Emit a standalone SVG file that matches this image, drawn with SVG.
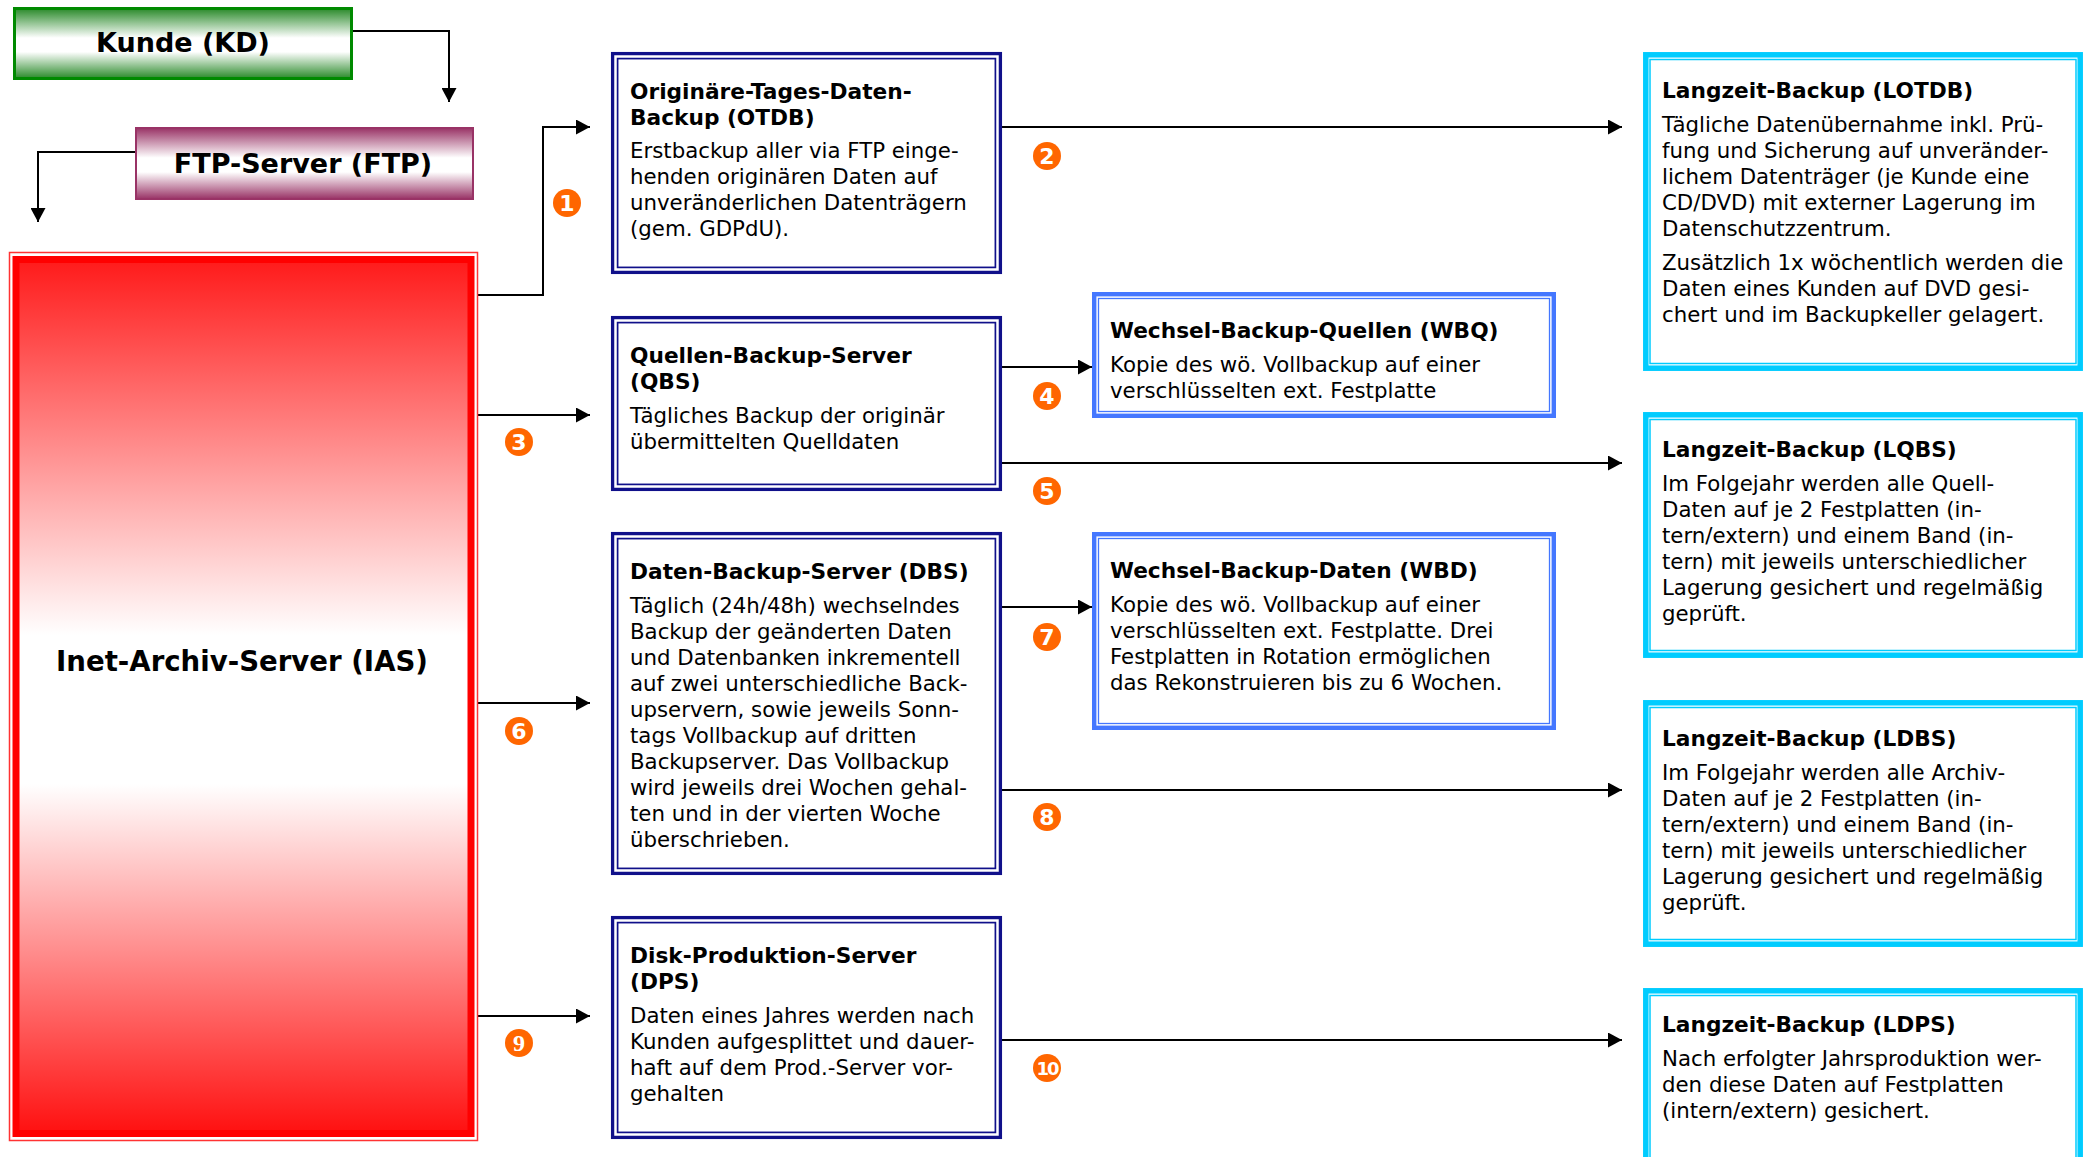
<svg xmlns="http://www.w3.org/2000/svg" width="2083" height="1157" viewBox="0 0 2083 1157">
<defs>
<linearGradient id="gGreen" x1="0" y1="0" x2="0" y2="1">
<stop offset="0" stop-color="#2a8a2a"/><stop offset="0.42" stop-color="#ffffff"/><stop offset="0.62" stop-color="#ffffff"/><stop offset="1" stop-color="#2a8a2a"/>
</linearGradient>
<linearGradient id="gPurple" x1="0" y1="0" x2="0" y2="1">
<stop offset="0" stop-color="#993366"/><stop offset="0.42" stop-color="#ffffff"/><stop offset="0.62" stop-color="#ffffff"/><stop offset="1" stop-color="#993366"/>
</linearGradient>
<linearGradient id="gRed" x1="0" y1="0" x2="0" y2="1">
<stop offset="0" stop-color="#ff1a1a"/><stop offset="0.43" stop-color="#ffffff"/><stop offset="0.6" stop-color="#ffffff"/><stop offset="1" stop-color="#ff1010"/>
</linearGradient>
<marker id="arr" markerUnits="userSpaceOnUse" markerWidth="14" markerHeight="15" viewBox="0 0 14 15" refX="14" refY="7.5" orient="auto">
<path d="M0,0 L14,7.5 L0,15 z" fill="#000"/>
</marker>
</defs>
<style>
.t{font-family:"DejaVu Sans",Verdana,sans-serif;font-size:21.3px;fill:#000}
.b{font-weight:bold;font-size:21.7px}
.big{font-family:"DejaVu Sans",Verdana,sans-serif;font-size:27px;font-weight:bold;fill:#000;text-anchor:middle}
.nvO{fill:#fff;stroke:#10108a;stroke-width:3.3}
.nvI{fill:none;stroke:#10108a;stroke-width:1.7}
.blO{fill:#fff;stroke:#4477ff;stroke-width:4.4}
.blI{fill:none;stroke:#4477ff;stroke-width:1.3}
.cyO{fill:#fff;stroke:#00ccff;stroke-width:5.5}
.cyI{fill:none;stroke:#00ccff;stroke-width:1.5}
.c{fill:none;stroke:#000;stroke-width:2;marker-end:url(#arr)}
.bd{fill:#ff6600}
.bn{font-family:"DejaVu Sans",Verdana,sans-serif;font-size:22px;font-weight:bold;fill:#fff;text-anchor:middle}
</style>
<rect width="2083" height="1157" fill="#fff"/>

<g id="connectors">
<path class="c" d="M353,31 H449 V102"/>
<path class="c" d="M135,152 H38 V222"/>
<path class="c" d="M478,295 H543 V127 H590"/>
<path class="c" d="M478,415 H590"/>
<path class="c" d="M478,703 H590"/>
<path class="c" d="M478,1016 H590"/>
<path class="c" d="M1002,127 H1622"/>
<path class="c" d="M1002,367 H1092"/>
<path class="c" d="M1002,463 H1622"/>
<path class="c" d="M1002,607 H1092"/>
<path class="c" d="M1002,790 H1622"/>
<path class="c" d="M1002,1040 H1622"/>
</g>

<g id="badges">
<circle class="bd" cx="567" cy="203" r="14"/><text class="bn" x="567" y="211">1</text>
<circle class="bd" cx="1047" cy="156" r="14"/><text class="bn" x="1047" y="164">2</text>
<circle class="bd" cx="519" cy="442" r="14"/><text class="bn" x="519" y="450">3</text>
<circle class="bd" cx="1047" cy="396" r="14"/><text class="bn" x="1047" y="404">4</text>
<circle class="bd" cx="1047" cy="491" r="14"/><text class="bn" x="1047" y="499">5</text>
<circle class="bd" cx="519" cy="731" r="14"/><text class="bn" x="519" y="739">6</text>
<circle class="bd" cx="1047" cy="637" r="14"/><text class="bn" x="1047" y="645">7</text>
<circle class="bd" cx="1047" cy="817" r="14"/><text class="bn" x="1047" y="825">8</text>
<circle class="bd" cx="519" cy="1043" r="14"/><text class="bn" x="519" y="1051" style="font-family:'Liberation Serif',serif;font-size:24px">9</text>
<circle class="bd" cx="1047" cy="1068" r="14"/><text class="bn" x="1047" y="1075" style="font-size:18px;letter-spacing:-2px">10</text>
</g>

<g id="kd">
<rect x="14.5" y="8.5" width="337" height="70" fill="url(#gGreen)" stroke="#008a00" stroke-width="3"/>
<text class="big" x="183" y="52">Kunde (KD)</text>
</g>

<g id="ftp">
<rect x="136" y="128" width="337" height="71" fill="url(#gPurple)" stroke="#993366" stroke-width="2"/>
<text class="big" x="303" y="173">FTP-Server (FTP)</text>
</g>

<g id="ias">
<rect x="9.5" y="252.5" width="468" height="888" fill="none" stroke="#ff3333" stroke-width="1.5"/>
<rect x="16" y="259.5" width="455" height="874" fill="url(#gRed)" stroke="#ff0000" stroke-width="7"/>
<text class="big" x="242" y="671" style="font-size:27.6px">Inet-Archiv-Server (IAS)</text>
</g>

<g id="otdb">
<rect class="nvO" x="612.6" y="53.6" width="387.8" height="218.8"/>
<rect class="nvI" x="617.6" y="58.6" width="377.8" height="208.8"/>
<text class="t b"><tspan x="630" y="99">Originäre-Tages-Daten-</tspan><tspan x="630" y="125">Backup (OTDB)</tspan></text>
<text class="t"><tspan x="630" y="158">Erstbackup aller via FTP einge-</tspan><tspan x="630" y="184">henden originären Daten auf</tspan><tspan x="630" y="210">unveränderlichen Datenträgern</tspan><tspan x="630" y="236">(gem. GDPdU).</tspan></text>
</g>

<g id="qbs">
<rect class="nvO" x="612.6" y="317.6" width="387.8" height="171.8"/>
<rect class="nvI" x="617.6" y="322.6" width="377.8" height="161.8"/>
<text class="t b"><tspan x="630" y="363">Quellen-Backup-Server</tspan><tspan x="630" y="389">(QBS)</tspan></text>
<text class="t"><tspan x="630" y="423">Tägliches Backup der originär</tspan><tspan x="630" y="449">übermittelten Quelldaten</tspan></text>
</g>

<g id="dbs">
<rect class="nvO" x="612.6" y="533.6" width="387.8" height="339.8"/>
<rect class="nvI" x="617.6" y="538.6" width="377.8" height="329.8"/>
<text class="t b" x="630" y="579">Daten-Backup-Server (DBS)</text>
<text class="t"><tspan x="630" y="613">Täglich (24h/48h) wechselndes</tspan><tspan x="630" y="639">Backup der geänderten Daten</tspan><tspan x="630" y="665">und Datenbanken inkrementell</tspan><tspan x="630" y="691">auf zwei unterschiedliche Back-</tspan><tspan x="630" y="717">upservern, sowie jeweils Sonn-</tspan><tspan x="630" y="743">tags Vollbackup auf dritten</tspan><tspan x="630" y="769">Backupserver. Das Vollbackup</tspan><tspan x="630" y="795">wird jeweils drei Wochen gehal-</tspan><tspan x="630" y="821">ten und in der vierten Woche</tspan><tspan x="630" y="847">überschrieben.</tspan></text>
</g>

<g id="dps">
<rect class="nvO" x="612.6" y="917.6" width="387.8" height="219.8"/>
<rect class="nvI" x="617.6" y="922.6" width="377.8" height="209.8"/>
<text class="t b"><tspan x="630" y="963">Disk-Produktion-Server</tspan><tspan x="630" y="989">(DPS)</tspan></text>
<text class="t"><tspan x="630" y="1023">Daten eines Jahres werden nach</tspan><tspan x="630" y="1049">Kunden aufgesplittet und dauer-</tspan><tspan x="630" y="1075">haft auf dem Prod.-Server vor-</tspan><tspan x="630" y="1101">gehalten</tspan></text>
</g>

<g id="wbq">
<rect class="blO" x="1094.2" y="294.2" width="459.6" height="121.6"/>
<rect class="blI" x="1098.5" y="298.5" width="451" height="113"/>
<text class="t b" x="1110" y="338">Wechsel-Backup-Quellen (WBQ)</text>
<text class="t"><tspan x="1110" y="372">Kopie des wö. Vollbackup auf einer</tspan><tspan x="1110" y="398">verschlüsselten ext. Festplatte</tspan></text>
</g>

<g id="wbd">
<rect class="blO" x="1094.2" y="534.2" width="459.6" height="193.6"/>
<rect class="blI" x="1098.5" y="538.5" width="451" height="185"/>
<text class="t b" x="1110" y="578">Wechsel-Backup-Daten (WBD)</text>
<text class="t"><tspan x="1110" y="612">Kopie des wö. Vollbackup auf einer</tspan><tspan x="1110" y="638">verschlüsselten ext. Festplatte. Drei</tspan><tspan x="1110" y="664">Festplatten in Rotation ermöglichen</tspan><tspan x="1110" y="690">das Rekonstruieren bis zu 6 Wochen.</tspan></text>
</g>

<g id="lotdb">
<rect class="cyO" x="1645.8" y="54.8" width="434.4" height="313.4"/>
<rect class="cyI" x="1650" y="59.5" width="426" height="304"/>
<text class="t b" x="1662" y="98">Langzeit-Backup (LOTDB)</text>
<text class="t"><tspan x="1662" y="132">Tägliche Datenübernahme inkl. Prü-</tspan><tspan x="1662" y="158">fung und Sicherung auf unveränder-</tspan><tspan x="1662" y="184">lichem Datenträger (je Kunde eine</tspan><tspan x="1662" y="210">CD/DVD) mit externer Lagerung im</tspan><tspan x="1662" y="236">Datenschutzzentrum.</tspan><tspan x="1662" y="270">Zusätzlich 1x wöchentlich werden die</tspan><tspan x="1662" y="296">Daten eines Kunden auf DVD gesi-</tspan><tspan x="1662" y="322">chert und im Backupkeller gelagert.</tspan></text>
</g>

<g id="lqbs">
<rect class="cyO" x="1645.8" y="414.8" width="434.4" height="240.4"/>
<rect class="cyI" x="1650" y="419.5" width="426" height="231"/>
<text class="t b" x="1662" y="457">Langzeit-Backup (LQBS)</text>
<text class="t"><tspan x="1662" y="491">Im Folgejahr werden alle Quell-</tspan><tspan x="1662" y="517">Daten auf je 2 Festplatten (in-</tspan><tspan x="1662" y="543">tern/extern) und einem Band (in-</tspan><tspan x="1662" y="569">tern) mit jeweils unterschiedlicher</tspan><tspan x="1662" y="595">Lagerung gesichert und regelmäßig</tspan><tspan x="1662" y="621">geprüft.</tspan></text>
</g>

<g id="ldbs">
<rect class="cyO" x="1645.8" y="702.8" width="434.4" height="241.4"/>
<rect class="cyI" x="1650" y="707.5" width="426" height="232"/>
<text class="t b" x="1662" y="746">Langzeit-Backup (LDBS)</text>
<text class="t"><tspan x="1662" y="780">Im Folgejahr werden alle Archiv-</tspan><tspan x="1662" y="806">Daten auf je 2 Festplatten (in-</tspan><tspan x="1662" y="832">tern/extern) und einem Band (in-</tspan><tspan x="1662" y="858">tern) mit jeweils unterschiedlicher</tspan><tspan x="1662" y="884">Lagerung gesichert und regelmäßig</tspan><tspan x="1662" y="910">geprüft.</tspan></text>
</g>

<g id="ldps">
<rect class="cyO" x="1645.8" y="990.8" width="434.4" height="200"/>
<rect class="cyI" x="1650" y="995.5" width="426" height="200"/>
<text class="t b" x="1662" y="1032">Langzeit-Backup (LDPS)</text>
<text class="t"><tspan x="1662" y="1066">Nach erfolgter Jahrsproduktion wer-</tspan><tspan x="1662" y="1092">den diese Daten auf Festplatten</tspan><tspan x="1662" y="1118">(intern/extern) gesichert.</tspan></text>
</g>
</svg>
